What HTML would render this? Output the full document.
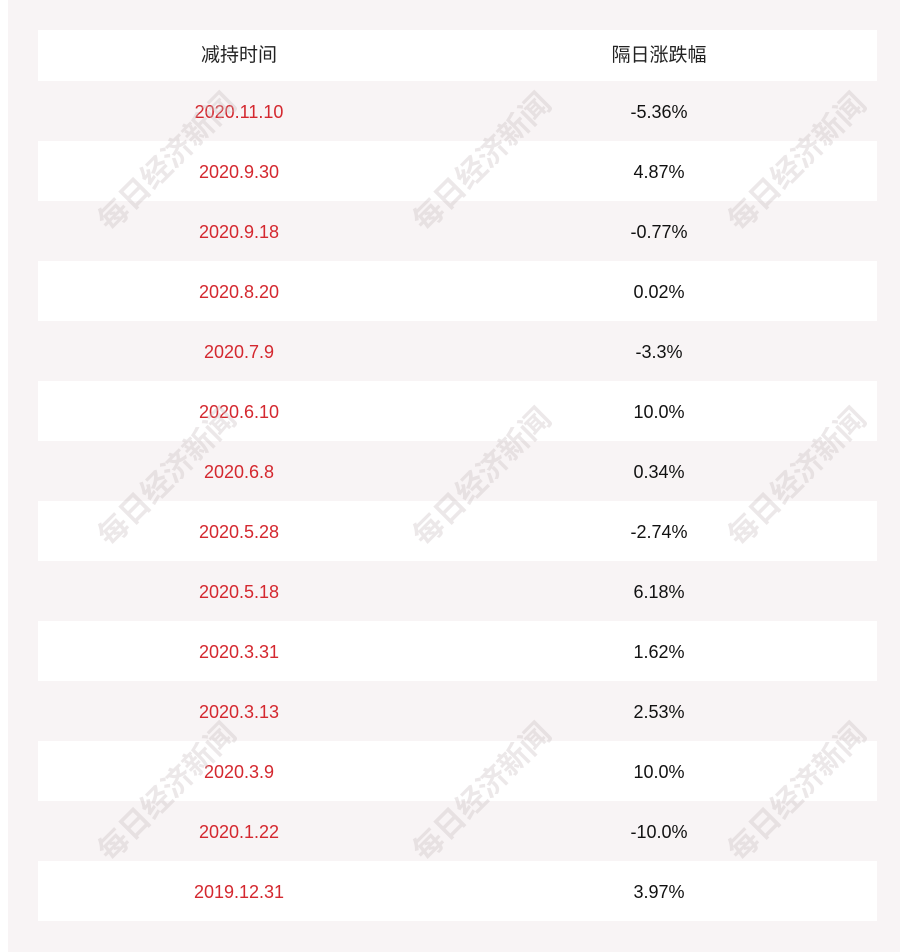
<!DOCTYPE html>
<html><head><meta charset="utf-8"><style>
body{margin:0;width:900px;height:952px;background:#fff;position:relative;overflow:hidden;font-family:"Liberation Sans","Noto Sans CJK SC",sans-serif;}
.bg{position:absolute;left:8px;top:0;width:892px;height:952px;background:#f8f4f5;}
.row{position:absolute;left:38px;width:839px;height:60px;font-size:18px;line-height:62px;}
.row span{position:absolute;width:402px;text-align:center;}
.a{left:0;color:#d4282f}.b{left:420px;color:#111}
.w{background:#fff}
.wm{position:absolute;font-size:30px;color:rgba(200,190,192,0.35);transform:rotate(-45deg);font-weight:bold;white-space:nowrap;font-family:"Noto Sans CJK SC",sans-serif;}
</style></head><body>
<div class="bg"></div>
<div class="row w" style="top:30px;height:51px;line-height:51px;font-size:19px"><span class="a" style="color:#222">减持时间</span><span class="b" style="color:#222">隔日涨跌幅</span></div>
<div class="row" style="top:81px"><span class="a">2020.11.10</span><span class="b">-5.36%</span></div>
<div class="row w" style="top:141px"><span class="a">2020.9.30</span><span class="b">4.87%</span></div>
<div class="row" style="top:201px"><span class="a">2020.9.18</span><span class="b">-0.77%</span></div>
<div class="row w" style="top:261px"><span class="a">2020.8.20</span><span class="b">0.02%</span></div>
<div class="row" style="top:321px"><span class="a">2020.7.9</span><span class="b">-3.3%</span></div>
<div class="row w" style="top:381px"><span class="a">2020.6.10</span><span class="b">10.0%</span></div>
<div class="row" style="top:441px"><span class="a">2020.6.8</span><span class="b">0.34%</span></div>
<div class="row w" style="top:501px"><span class="a">2020.5.28</span><span class="b">-2.74%</span></div>
<div class="row" style="top:561px"><span class="a">2020.5.18</span><span class="b">6.18%</span></div>
<div class="row w" style="top:621px"><span class="a">2020.3.31</span><span class="b">1.62%</span></div>
<div class="row" style="top:681px"><span class="a">2020.3.13</span><span class="b">2.53%</span></div>
<div class="row w" style="top:741px"><span class="a">2020.3.9</span><span class="b">10.0%</span></div>
<div class="row" style="top:801px"><span class="a">2020.1.22</span><span class="b">-10.0%</span></div>
<div class="row w" style="top:861px"><span class="a">2019.12.31</span><span class="b">3.97%</span></div>
<div class="wm" style="left:75px;top:138px">每日经济新闻</div>
<div class="wm" style="left:390px;top:138px">每日经济新闻</div>
<div class="wm" style="left:705px;top:138px">每日经济新闻</div>
<div class="wm" style="left:75px;top:453px">每日经济新闻</div>
<div class="wm" style="left:390px;top:453px">每日经济新闻</div>
<div class="wm" style="left:705px;top:453px">每日经济新闻</div>
<div class="wm" style="left:75px;top:768px">每日经济新闻</div>
<div class="wm" style="left:390px;top:768px">每日经济新闻</div>
<div class="wm" style="left:705px;top:768px">每日经济新闻</div>
</body></html>
